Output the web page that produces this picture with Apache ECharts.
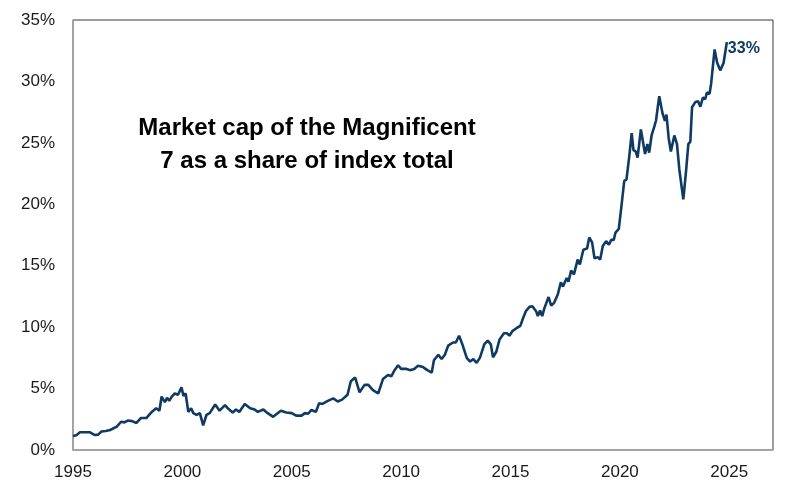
<!DOCTYPE html>
<html>
<head>
<meta charset="utf-8">
<script src="https://cdn.jsdelivr.net/npm/echarts@6/dist/echarts.min.js"></script>
<style>html,body{margin:0;padding:0;background:#fff}#c{width:788px;height:488px}</style>
</head>
<body>
<div id="c"></div>
<script>
const dates = [1995.0,1995.15,1995.32,1995.55,1995.78,1996.0,1996.15,1996.3,1996.5,1996.7,1997.0,1997.2,1997.35,1997.5,1997.7,1997.9,1998.1,1998.35,1998.6,1998.8,1998.95,1999.05,1999.2,1999.3,1999.4,1999.5,1999.65,1999.8,1999.96,2000.05,2000.15,2000.27,2000.4,2000.5,2000.65,2000.8,2000.95,2001.1,2001.25,2001.5,2001.7,2001.95,2002.1,2002.3,2002.45,2002.6,2002.85,2003.1,2003.3,2003.45,2003.7,2003.9,2004.15,2004.5,2004.75,2005.0,2005.2,2005.45,2005.6,2005.75,2005.9,2006.1,2006.25,2006.4,2006.65,2006.9,2007.1,2007.3,2007.55,2007.7,2007.9,2008.1,2008.33,2008.5,2008.7,2008.95,2009.17,2009.4,2009.55,2009.7,2009.86,2010.0,2010.25,2010.4,2010.6,2010.77,2011.0,2011.2,2011.4,2011.5,2011.7,2011.85,2012.0,2012.15,2012.37,2012.5,2012.65,2012.8,2013.0,2013.15,2013.3,2013.45,2013.6,2013.8,2013.96,2014.1,2014.2,2014.35,2014.5,2014.7,2014.85,2014.95,2015.1,2015.3,2015.45,2015.56,2015.7,2015.87,2016.0,2016.17,2016.25,2016.35,2016.45,2016.55,2016.74,2016.86,2017.0,2017.16,2017.3,2017.4,2017.57,2017.65,2017.77,2017.9,2018.07,2018.17,2018.33,2018.5,2018.6,2018.73,2018.84,2018.99,2019.1,2019.22,2019.37,2019.5,2019.6,2019.72,2019.8,2019.95,2020.05,2020.2,2020.3,2020.43,2020.54,2020.62,2020.72,2020.81,2020.96,2021.15,2021.26,2021.34,2021.45,2021.57,2021.65,2021.8,2021.95,2022.06,2022.13,2022.23,2022.33,2022.4,2022.49,2022.61,2022.72,2022.9,2023.02,2023.13,2023.22,2023.3,2023.44,2023.57,2023.68,2023.8,2023.9,2023.98,2024.1,2024.17,2024.33,2024.45,2024.59,2024.74,2024.89];
const shares = [1.14,1.2,1.44,1.45,1.44,1.22,1.25,1.5,1.55,1.63,1.9,2.3,2.25,2.4,2.35,2.2,2.6,2.6,3.1,3.4,3.2,4.35,3.9,4.25,4.0,4.3,4.6,4.5,5.1,4.4,4.6,3.1,3.4,3.0,2.85,3.0,2.0,2.85,3.0,3.7,3.2,3.65,3.35,3.05,3.3,3.1,3.75,3.4,3.3,3.1,3.3,3.0,2.7,3.2,3.05,3.0,2.8,2.8,3.0,2.95,3.26,3.1,3.8,3.75,4.0,4.2,3.95,4.1,4.5,5.6,5.9,4.7,5.3,5.3,4.9,4.6,5.77,6.1,6.0,6.5,6.9,6.6,6.6,6.5,6.6,6.85,6.75,6.5,6.3,7.3,7.75,7.4,7.75,8.5,8.75,8.75,9.3,8.6,7.5,7.2,7.4,7.1,7.5,8.6,8.9,8.6,7.55,8.0,9.0,9.5,9.5,9.3,9.7,9.95,10.1,10.66,11.3,11.65,11.7,11.3,10.9,11.35,10.9,11.55,12.45,11.75,12.0,12.65,13.65,13.3,14.0,13.7,14.6,14.3,15.5,15.1,16.3,16.4,17.3,16.9,15.6,15.7,15.5,16.6,17.0,16.7,17.1,17.1,17.7,18.0,19.5,21.9,22.0,23.9,25.8,24.4,24.3,23.8,26.1,24.1,24.9,24.2,25.6,26.3,26.8,28.8,27.4,26.8,27.3,25.4,24.3,24.2,25.6,24.9,22.8,20.4,22.6,24.9,25.1,27.9,28.3,28.4,27.95,28.7,28.55,29.1,29.0,29.8,32.6,31.5,30.9,31.5,33.2];
const titleLines = ["Market cap of the Magnificent", "7 as a share of index total"];
const endLabelText = "33%";

const lineColor = "#0f3a63";
const chart = echarts.init(document.getElementById('c'));
chart.setOption({
  animation: false,
  textStyle: { fontFamily: "Liberation Sans, Arial, sans-serif" },
  grid: { left: 73, right: 15, top: 20, bottom: 38, show: true, borderColor: "#3a3a3a", borderWidth: 1, backgroundColor: "transparent", outerBoundsMode: "none", containLabel: false },
  xAxis: {
    type: "value", min: 1995, max: 2027, interval: 5,
    splitLine: { show: false },
    axisLine: { show: true, lineStyle: { color: "#a6a6a6", width: 1.5 } },
    axisTick: { show: false },
    axisLabel: { fontSize: 17, color: "#1a1a1a", margin: 14, showMaxLabel: false, formatter: v => String(v) }
  },
  yAxis: {
    type: "value", min: 0, max: 35, interval: 5,
    splitLine: { show: false },
    axisLine: { show: true, lineStyle: { color: "#a6a6a6", width: 1.5 } },
    axisTick: { show: false },
    axisLabel: { fontSize: 17, color: "#1a1a1a", margin: 18, formatter: v => v + "%" }
  },
  graphic: [{
    type: "text", left: 307 - 175, top: 112,
    style: { text: titleLines.join("\n"), width: 350, x: 0, y: 0, align: "center", textAlign: "center",
      font: "bold 24px 'Liberation Sans', Arial, sans-serif", fill: "#000", lineHeight: 33 }
  }],
  series: [{
    type: "line",
    data: dates.map((d, i) => [d, shares[i]]),
    showSymbol: false, symbol: "none",
    lineStyle: { color: lineColor, width: 2.6 },
    endLabel: { show: true, formatter: endLabelText, color: lineColor, fontWeight: "bold", fontSize: 16, distance: 1, offset: [0, 6] }
  }]
});
</script>
</body>
</html>
